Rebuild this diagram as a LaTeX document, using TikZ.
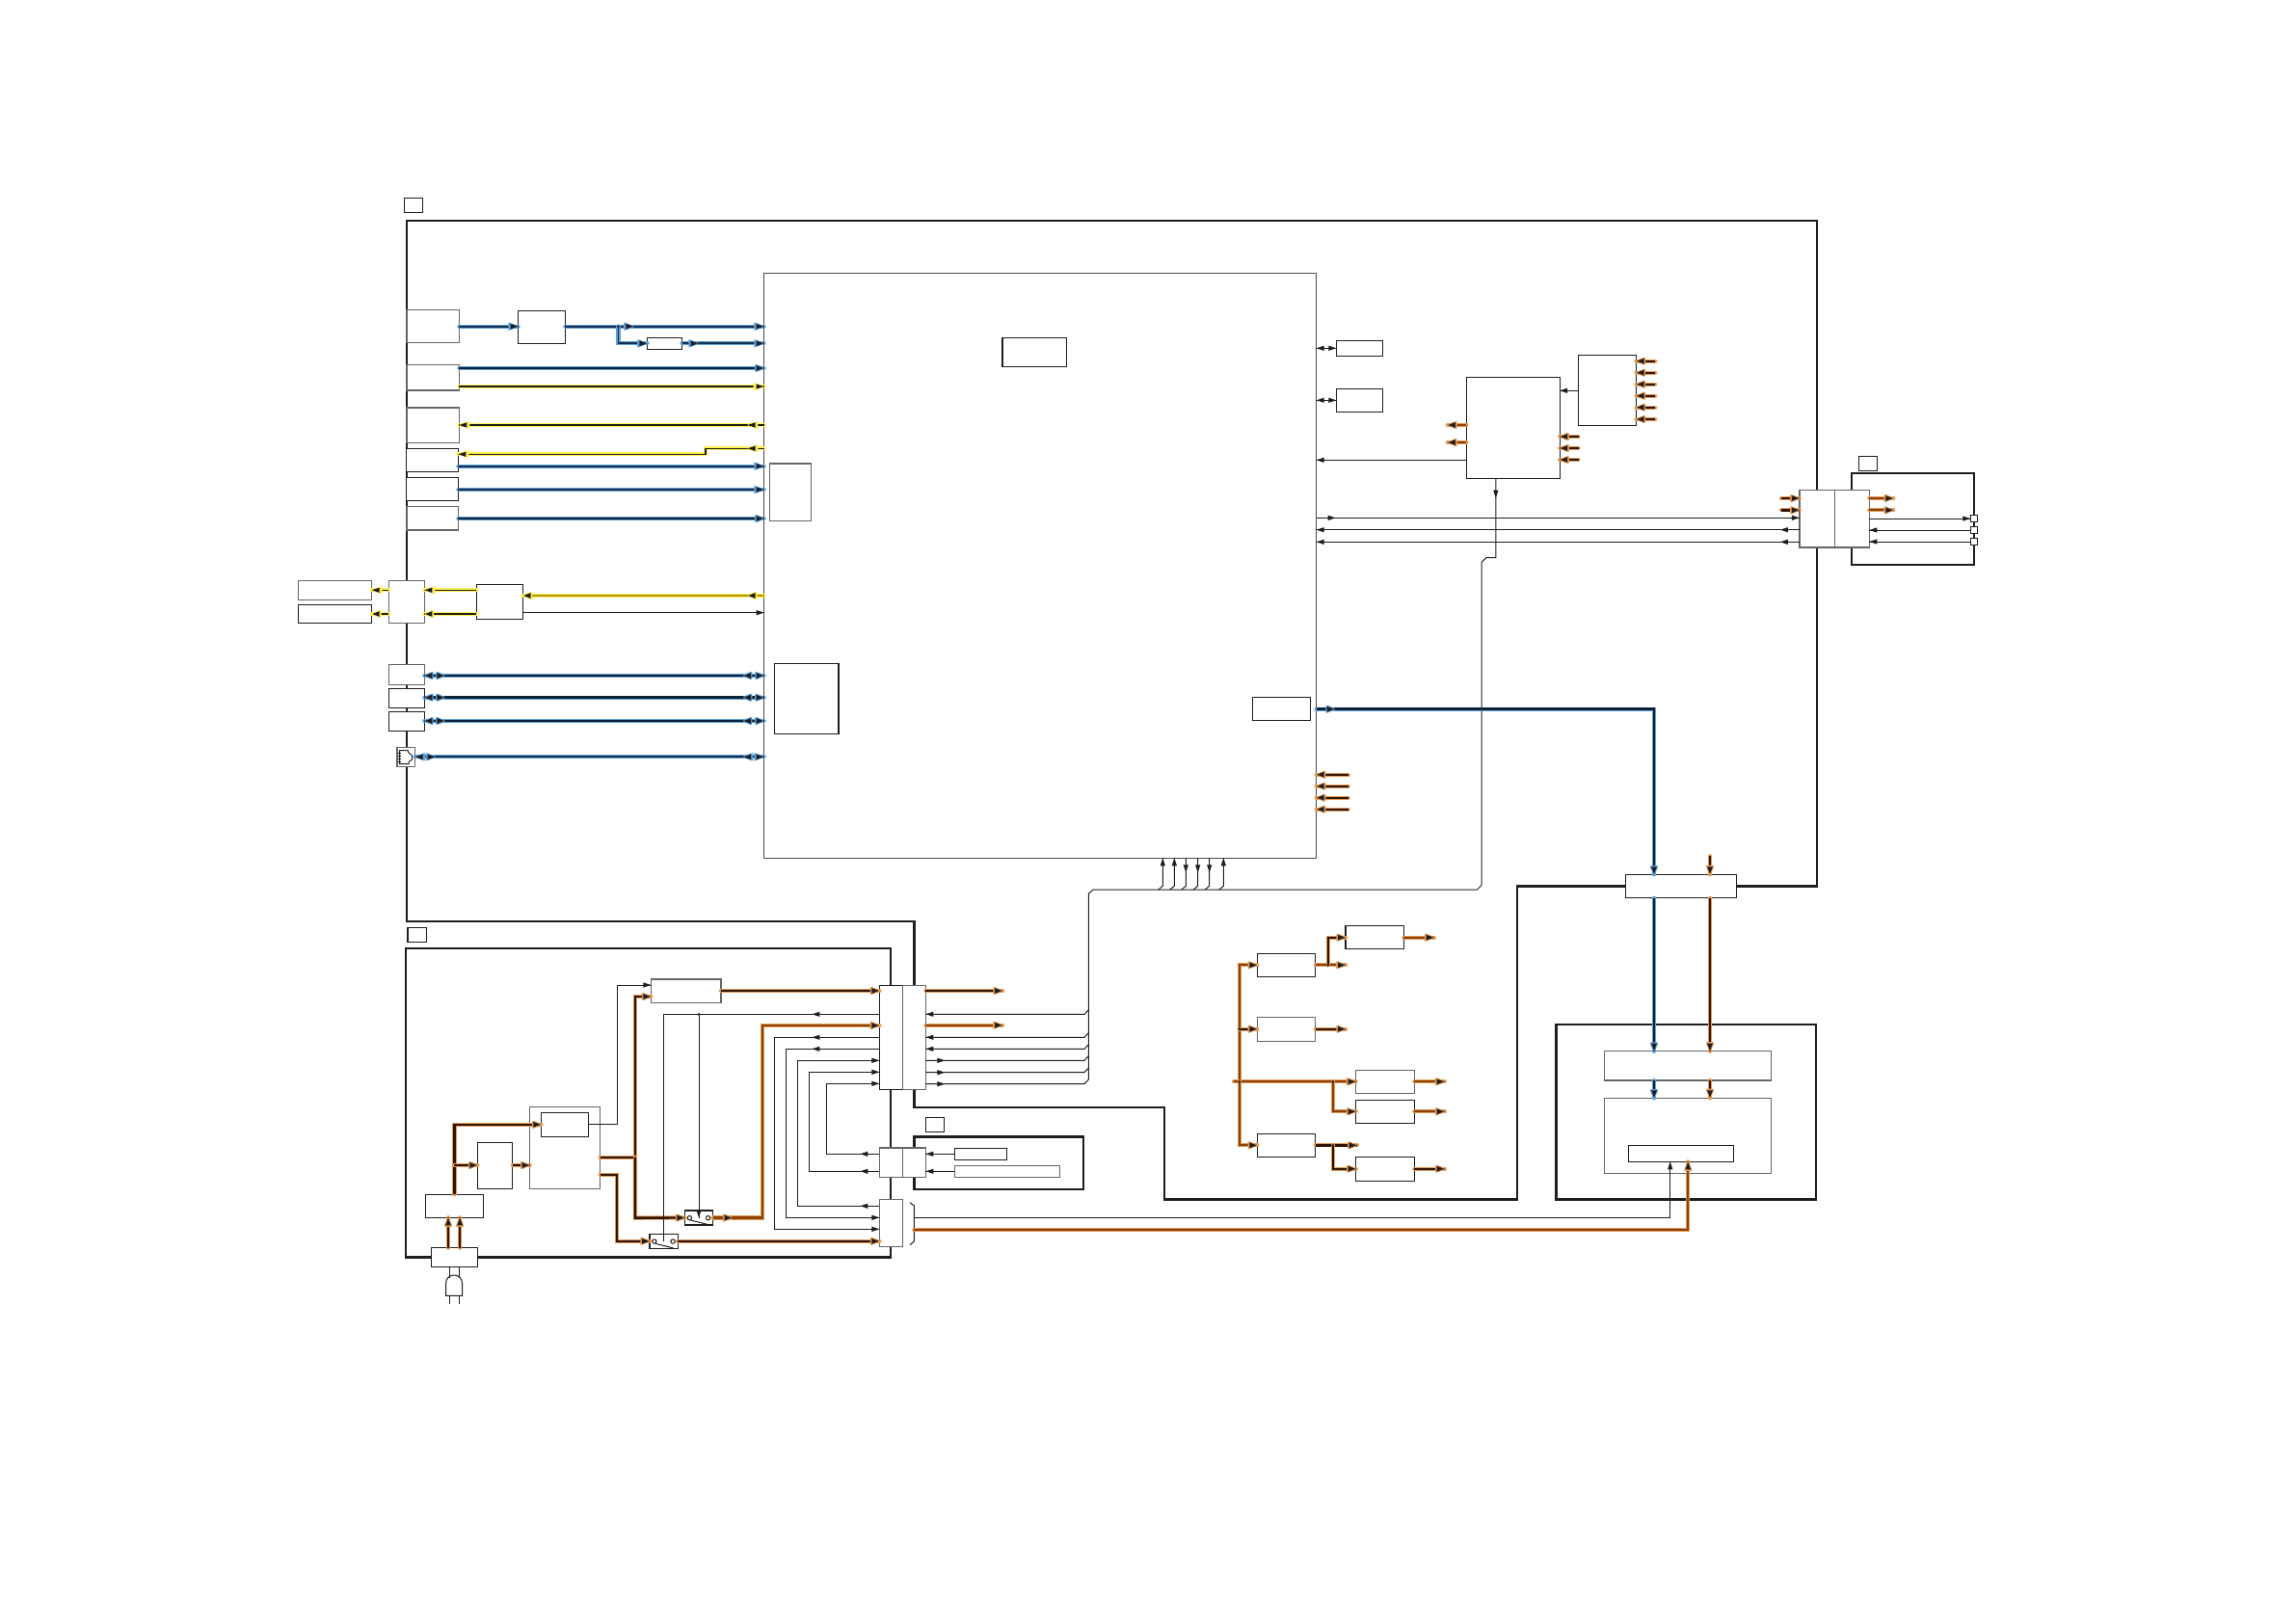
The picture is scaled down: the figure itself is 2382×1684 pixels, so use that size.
\documentclass[tikz,border=0pt]{standalone}
\usepackage{xcolor}
\usepackage{tikz}
\usetikzlibrary{arrows.meta, decorations.markings}

\definecolor{ink}{HTML}{1E1E1E}
\definecolor{boxgrey}{HTML}{666666}
\definecolor{hblue}{HTML}{5F9FD6}
\definecolor{cblue}{HTML}{17324F}
\definecolor{cnavy}{HTML}{0B2238}
\definecolor{hyellow}{HTML}{FFEE55}
\definecolor{cyellow}{HTML}{B59400}
\definecolor{horange}{HTML}{E39A55}
\definecolor{cbrown}{HTML}{2E1503}
\definecolor{corange}{HTML}{8A4208}

\tikzset{
    box/.style={draw=ink, line width=1.2pt, fill=white, inner sep=0pt, outer sep=0pt, anchor=north west},
    boxg/.style={draw=boxgrey, line width=1.4pt},
    frame/.style={draw=ink, line width=2.4pt},
    sig/.style={draw=ink, line width=1pt},
    halocol/.code={\colorlet{haloc}{#1}},
    wireblue/.style={halocol=hblue, draw=cblue, line width=1.8pt, preaction={draw=haloc, line width=4.3pt, line cap=round}},
    wirenavy/.style={halocol=hblue, draw=cnavy, line width=2.7pt, preaction={draw=haloc, line width=4.3pt, line cap=round}},
    wireyellow/.style={halocol=hyellow, draw=ink, line width=1.1pt, preaction={draw=haloc, line width=4.3pt, line cap=round}},
    wireyellowb/.style={halocol=hyellow, draw=ink, line width=2.2pt, preaction={draw=haloc, line width=4.3pt, line cap=round}},
    wireyellowc/.style={halocol=hyellow, draw=cyellow, line width=2.2pt, preaction={draw=haloc, line width=4.3pt, line cap=round}},
    wirebrown/.style={halocol=horange, draw=cbrown, line width=2.4pt, preaction={draw=haloc, line width=4.3pt, line cap=round}},
    wireorange/.style={halocol=horange, draw=corange, line width=2.2pt, preaction={draw=haloc, line width=4.3pt, line cap=round}},
    ftip/.style={postaction={decorate, decoration={markings, mark=at position #1 with {\arrow[haloc]{Triangle[length=12pt,width=8.5pt,round]}\arrow[ink]{Triangle[length=8pt,width=5pt]}}}}},
    btip/.style={postaction={decorate, decoration={markings, mark=at position #1 with {\arrowreversed[haloc]{Triangle[length=12pt,width=8.5pt,round]}\arrowreversed[ink]{Triangle[length=8pt,width=5pt]}}}}},
    stip/.style={postaction={decorate, decoration={markings, mark=at position #1 with {\arrow[ink]{Triangle[length=8pt,width=5pt]}}}}},
    rtip/.style={postaction={decorate, decoration={markings, mark=at position #1 with {\arrowreversed[ink]{Triangle[length=8pt,width=5pt]}}}}},
}

% box from its two corners, in pixels of the sheet
\newcommand{\bx}[6][]{\node[box, #1, minimum width=#5pt-#3pt, minimum height=#6pt-#4pt] (#2) at (#3,#4) {};}
% switch drawn inside a small box
\newcommand{\swbox}[3]{%
    \node[box, minimum width=29.2pt, minimum height=15pt] (#1) at (#2,#3) {};
    \draw[sig] (#2+5,#3+7.7) circle (2.2);
    \draw[sig] (#2+24.2,#3+7.7) circle (2.2);
    \draw[sig] (#2+6,#3+10) -- (#2+24.5,#3+14.6);
}

\begin{document}
\begin{tikzpicture}[x=1pt, y=-1pt, >=Stealth]
\useasboundingbox (0,0) rectangle (2382,1684);

% ── Frames ──────────────────────────────────────
\draw[frame] (948.3,1022) -- (948.3,956) -- (422,956) -- (422,228.7) -- (1885,228.7) -- (1885,919.3)
    -- (1574,919.3) -- (1574,1244.3) -- (1208,1244.3) -- (1208,1149) -- (948.3,1149) -- cycle;
\draw[frame] (421,983.7) rectangle (923.9,1304.3);
\draw[frame] (948.3,1179.3) rectangle (1123.7,1233.7);
\draw[frame] (1614.3,1063) rectangle (1884,1244.3);
\draw[frame] (1921,490.7) rectangle (2048.2,586);

% ── Boxes ──────────────────────────────────────
\bx{lblmain}{419.3}{205.3}{438.2}{220.3}
\bx{lblpower}{422.9}{962.7}{442.5}{977.3}
\bx{lblsub}{960.3}{1159.7}{979.7}{1174.3}
\bx{lblright}{1928.2}{473.3}{1947.5}{488.7}

\bx[draw=ink!80, line width=1pt]{main}{792.5}{283}{1365.7}{890.3}
\bx{maintop}{1040}{350.7}{1106.7}{380.7}
\bx[boxg]{mainin}{798.2}{481}{841.5}{540.3}
\bx{mainio}{803.2}{688.3}{870}{761.3}
\bx{mainout}{1299.3}{723.3}{1359.7}{747.3}

\bx[boxg]{ina}{421.8}{321.3}{476.4}{355.3}
\bx{split}{537.5}{322.3}{586.4}{356.3}
\bx{splitsm}{671.4}{350.3}{707.5}{362.7}
\bx[boxg]{inb}{421.8}{378.3}{476.4}{405}
\bx[boxg]{inc}{421.8}{423}{476.4}{459.3}
\bx{ind}{421.8}{465.3}{475.4}{489.3}
\bx{ine}{421.8}{495.3}{475.4}{519.3}
\bx[boxg]{inf}{421.8}{525.7}{475.4}{550}

\bx[boxg]{exta}{309.3}{602.7}{385.7}{622.3}
\bx{extb}{309.3}{627.3}{385.7}{646.3}
\bx[boxg]{extc}{403.2}{602.7}{440.4}{646.7}
\bx{amp}{494.3}{606.3}{542.5}{642.3}
\bx[boxg]{ioa}{403.2}{689.7}{440.4}{710.3}
\bx{iob}{403.2}{714.3}{440.4}{734.3}
\bx{ioc}{403.2}{738.3}{440.4}{758.3}
\bx[boxg]{jack}{412}{775.7}{430.7}{795.3}
\draw[sig] (414.5,778.5) -- (423,778.5) -- (424,781) -- (427.5,784) -- (427.5,788) -- (424,790.5) -- (424,792.5) -- (414.5,792.5) -- cycle;
\draw[sig] (413,781) -- (416,781) (413,784) -- (416,784) (413,787) -- (416,787) (413,790) -- (416,790);

\bx{rbxa}{1386.3}{353.3}{1434.7}{369.3}
\bx{rbxb}{1386.3}{403.3}{1434.7}{427.3}
\bx{psbig}{1521.4}{391.3}{1618.2}{496.7}
\bx{pssm}{1637.5}{368.3}{1697.5}{441.3}
\bx[boxg]{cnra}{1866.8}{508.7}{1903.2}{568}
\bx[boxg]{cnrb}{1903.2}{508.7}{1939.3}{568}
\bx{tma}{2044.3}{534.3}{2051.8}{541.7}
\bx{tmb}{2044.3}{546.3}{2051.8}{553.7}
\bx{tmc}{2044.3}{558.3}{2051.8}{565.7}

\bx{inlet}{447.5}{1294.7}{495.7}{1314.3}
\bx{psa}{441.4}{1239.3}{501.4}{1263.3}
\bx{pfc}{495.4}{1185.3}{531.8}{1233.3}
\bx[boxg]{large}{549.6}{1148.7}{622.5}{1233.3}
\bx{largein}{561.4}{1154.3}{610.7}{1179.3}
\bx[boxg]{stby}{675.4}{1016}{747.9}{1040.3}
\swbox{swa}{710.4}{1256}
\swbox{swb}{673.9}{1280.3}
\bx{cola}{912.4}{1022.3}{936.3}{1130.3}
\bx[boxg]{colb}{936.3}{1022.3}{960.4}{1130.3}
\bx[boxg]{mida}{912.4}{1191}{936.3}{1221.3}
\bx[boxg]{midb}{936.3}{1191}{960.4}{1221.3}
\bx[boxg]{lowa}{912.4}{1244.3}{936.3}{1293.7}
\bx{suba}{990.3}{1191.3}{1044.7}{1203.3}
\bx[boxg]{subb}{990.3}{1209.3}{1099.3}{1221.3}

\bx{pa}{1396}{960.3}{1456.3}{984.3}
\bx{pb}{1304.3}{989.3}{1364.7}{1013.3}
\bx[boxg]{pc}{1304.3}{1055.7}{1364.7}{1080.3}
\bx[boxg]{pd}{1406.7}{1110.3}{1467.3}{1134.3}
\bx{pe}{1406.7}{1141.3}{1467.3}{1165.3}
\bx{pf}{1304.3}{1176.3}{1364.7}{1200.3}
\bx{pg}{1406.7}{1200.3}{1467.3}{1225.3}

\bx{bridge}{1686.7}{907.3}{1801.7}{931.7}
\bx[boxg]{panela}{1664.3}{1090.7}{1837.7}{1121}
\bx[boxg]{panelb}{1664.3}{1139.3}{1837.7}{1217.7}
\bx{panelc}{1689.3}{1188.7}{1798.3}{1205.3}

% plug under the inlet
\draw[sig] (466.8,0 |- inlet.south) -- (466.8,1326) (476.4,0 |- inlet.south) -- (476.4,1326);
\draw[sig] (462.5,1344.3) -- (462.5,1332) .. controls (462.5,1320) and (479.6,1320) .. (479.6,1332) -- (479.6,1344.3) -- cycle;
\draw[sig] (466.8,1344.3) -- (466.8,1352.7) (476.4,1344.3) -- (476.4,1352.7);

% ── Left inputs ──────────────────────────────────────
\draw[wireblue, ftip=1] (ina.east |- 0,338.7) -- (split.west |- 0,338.7);
\draw[wireblue, ftip=71pt, ftip=1] (split.east |- 0,338.7) -- (main.west |- 0,338.7);
\draw[wireblue, ftip=1] (641.4,338.7) -- (641.4,356.3) -- (splitsm.west |- 0,356.3);
\fill[ink] (641.4,338.7) circle (1.5);
\draw[wireblue, ftip=17pt, ftip=1] (splitsm.east |- 0,356.3) -- (main.west |- 0,356.3);
\draw[wirenavy, ftip=1] (inb.east |- 0,382) -- (main.west |- 0,382);
\draw[wireyellow, ftip=1] (inb.east |- 0,401) -- (main.west |- 0,401);
\draw[wireyellow, ftip=17pt, ftip=1] (main.west |- 0,441) -- (inc.east |- 0,441);
\draw[wireyellow, ftip=17pt, ftip=1] (main.west |- 0,465.3) -- (732,465.3) -- (732,471.3) -- (ind.east |- 0,471.3);
\draw[wireblue, ftip=1] (ind.east |- 0,483.7) -- (main.west |- 0,483.7);
\draw[wireblue, ftip=1] (ine.east |- 0,508) -- (main.west |- 0,508);
\draw[wirenavy, ftip=1] (inf.east |- 0,538) -- (main.west |- 0,538);

\draw[wireyellowc, ftip=17pt, ftip=1] (main.west |- 0,618) -- (amp.east |- 0,618);
\draw[sig, stip=1] (amp.east |- 0,635.7) -- (main.west |- 0,635.7);
\draw[wireyellow, ftip=1] (amp.west |- 0,612.3) -- (extc.east |- 0,612.3);
\draw[wireyellowb, ftip=1] (amp.west |- 0,637) -- (extc.east |- 0,637);
\draw[wireyellow, ftip=1] (extc.west |- 0,612.3) -- (exta.east |- 0,612.3);
\draw[wireyellowb, ftip=1] (extc.west |- 0,637) -- (extb.east |- 0,637);

\foreach \nm/\yy/\wr in {ioa/701/wirenavy, iob/723.7/wirenavy, ioc/748/wirenavy, jack/785.3/wireblue}
    \draw[\wr, btip=0, ftip=21pt, btip=-21.5pt, ftip=1] (\nm.east |- 0,\yy) -- (main.west |- 0,\yy);

% ── Right of the main board ──────────────────────────────────────
\draw[sig, rtip=0, stip=1] (main.east |- rbxa.west) -- (rbxa.west);
\draw[sig, rtip=0, stip=1] (main.east |- rbxb.west) -- (rbxb.west);
\draw[sig, stip=1] (psbig.west |- 0,477.3) -- (main.east |- 0,477.3);
\draw[sig, stip=1] (pssm.west |- 0,405.3) -- (psbig.east |- 0,405.3);
\draw[sig, stip=20pt, stip=1] (main.east |- 0,537.3) -- (cnra.west |- 0,537.3);
\draw[sig, stip=20pt, stip=1] (cnra.west |- 0,549.7) -- (main.east |- 0,549.7);
\draw[sig, stip=20pt, stip=1] (cnra.west |- 0,562.3) -- (main.east |- 0,562.3);
\draw[sig, stip=1] (cnrb.east |- tma.west) -- (tma.west);
\draw[sig, stip=1] (tmb.west) -- (cnrb.east |- tmb.west);
\draw[sig, stip=1] (tmc.west) -- (cnrb.east |- tmc.west);

\foreach \yy [count=\i] in {374.7, 386.7, 398.7, 410.7, 422.7, 435} {
    \coordinate (stubA\i) at (1717.1,\yy);
    \draw[wirebrown, ftip=1] (stubA\i) -- (pssm.east |- stubA\i);
}
\foreach \yy [count=\i] in {453, 465, 477} {
    \coordinate (stubB\i) at (1637.5,\yy);
    \draw[wirebrown, ftip=1] (stubB\i) -- (psbig.east |- stubB\i);
}
\foreach \yy [count=\i] in {441, 459} {
    \coordinate (stubC\i) at (1501.8,\yy);
    \draw[wireorange, ftip=1] (psbig.west |- stubC\i) -- (stubC\i);
}
\foreach \yy [count=\i] in {803.7, 815.7, 827.7, 839.7} {
    \coordinate (stubD\i) at (1398.7,\yy);
    \draw[wirebrown, ftip=1] (stubD\i) -- (main.east |- stubD\i);
}
\foreach \yy [count=\i] in {517, 529.3} {
    \coordinate (stubE\i) at (1848,\yy);
    \coordinate (stubF\i) at (1964.3,\yy);
    \draw[wirebrown, ftip=1] (stubE\i) -- (cnra.west |- stubE\i);
    \draw[wireorange, ftip=1] (cnrb.east |- stubF\i) -- (stubF\i);
}

% ── Bus between boards ──────────────────────────────────────
\draw[sig, stip=20pt] (1551.8,0 |- psbig.south) -- (1551.8,578.7) -- (1542,578.7) -- (1537,583.3)
    -- (1537,918.5) -- (1532.5,923) -- (1134,923) -- (1129.3,927.5) -- (1129.3,1120);
\foreach \xx in {1206.3, 1218.3, 1269.3}
    \draw[sig, stip=1] (\xx-4.5,923) -- (\xx,919.3) -- (\xx,0 |- main.south);
\foreach \xx in {1230.3, 1242.7, 1254.7}
    \draw[sig, stip=15pt] (\xx,0 |- main.south) -- (\xx,919.3) -- (\xx-4.5,923);
\foreach \yy in {1052.3, 1076.3, 1088.3}
    \draw[sig, stip=1] (1129.3,\yy-4.6) -- (1125,\yy) -- (colb.east |- 0,\yy);
\foreach \yy in {1100.3, 1112.7, 1124.7}
    \draw[sig, stip=20pt] (colb.east |- 0,\yy) -- (1125,\yy) -- (1129.3,\yy-4.6);

\draw[wirenavy, ftip=19pt, ftip=1] (main.east |- 0,735.7) -- (1716,735.7) -- (1716,0 |- bridge.north);
\coordinate (stubG) at (1774,888.3);
\draw[wirebrown, ftip=1] (stubG) -- (stubG |- bridge.north);
\draw[wirenavy, ftip=1] (1716,0 |- bridge.south) -- (1716,0 |- panela.north);
\draw[wirebrown, ftip=1] (1774,0 |- bridge.south) -- (1774,0 |- panela.north);
\draw[wirenavy, ftip=1] (1716,0 |- panela.south) -- (1716,0 |- panelb.north);
\draw[wirebrown, ftip=1] (1774,0 |- panela.south) -- (1774,0 |- panelb.north);

% ── Power supply board ──────────────────────────────────────
\draw[wirebrown, ftip=1] (465,0 |- inlet.north) -- (465,0 |- psa.south);
\draw[wirebrown, ftip=1] (477.1,0 |- inlet.north) -- (477.1,0 |- psa.south);
\draw[wirebrown, ftip=1] (psa.north) -- (psa.north |- largein.west) -- (largein.west);
\draw[wirebrown, ftip=1] (psa.north |- 0,1209) -- (pfc.west |- 0,1209);
\draw[wirebrown, ftip=1] (pfc.east |- 0,1209) -- (large.west |- 0,1209);
\draw[wirebrown] (large.east |- 0,1200.7) -- (658.9,1200.7);
\draw[wirebrown, ftip=1] (658.9,1200.7) -- (658.9,1034) -- (stby.west |- 0,1034);
\draw[wirebrown, ftip=1] (658.9,1200.7) -- (658.9,1263.6) -- (swa.west);
\draw[wireorange, ftip=20pt, ftip=1] (swa.east) -- (791.1,1263.5) -- (791.1,1064) -- (cola.west |- 0,1064);
\draw[wirebrown, ftip=1] (large.east |- 0,1218.7) -- (640,1218.7) -- (640,1287.8) -- (swb.west);
\draw[wirebrown, ftip=1] (swb.east) -- (lowa.west |- swb.east);
\draw[wirebrown, ftip=1] (stby.east |- 0,1028) -- (cola.west |- 0,1028);
\draw[sig, stip=1] (largein.east) -- (640.4,0 |- largein.east) -- (640.4,1022) -- (stby.west |- 0,1022);

\draw[sig, stip=70pt] (cola.west |- 0,1052.3) -- (swb.center |- 0,1052.3) -- (swb.center);
\draw[sig, stip=1] (swa.center |- 0,1052.3) -- (swa.center);
\fill[ink] (swa.center |- 0,1052.3) circle (1.5);
\draw[sig, stip=70pt, stip=1] (cola.west |- 0,1076.3) -- (803.2,1076.3) -- (803.2,1275.3) -- (lowa.west |- 0,1275.3);
\draw[sig, stip=70pt, stip=1] (cola.west |- 0,1088.3) -- (815.4,1088.3) -- (815.4,1263.3) -- (lowa.west |- 0,1263.3);
\draw[sig, stip=20pt, stip=1] (lowa.west |- 0,1251.3) -- (827.5,1251.3) -- (827.5,1100.3) -- (cola.west |- 0,1100.3);
\draw[sig, stip=20pt, stip=1] (mida.west |- 0,1215.3) -- (839.3,1215.3) -- (839.3,1112.3) -- (cola.west |- 0,1112.3);
\draw[sig, stip=20pt, stip=1] (mida.west |- 0,1197.3) -- (857.5,1197.3) -- (857.5,1124.3) -- (cola.west |- 0,1124.3);

\draw[sig, stip=1] (suba.west) -- (midb.east |- suba.west);
\draw[sig, stip=1] (subb.west) -- (midb.east |- subb.west);

\coordinate (stubH) at (1040,1028);
\coordinate (stubI) at (1040,1063.7);
\draw[wirebrown, ftip=1] (colb.east |- stubH) -- (stubH);
\draw[wireorange, ftip=1] (colb.east |- stubI) -- (stubI);

% cable to the panel
\draw[sig] (944,1247.7) -- (948.3,1251) -- (948.3,1288) -- (944,1291.7);
\draw[sig, stip=1] (948.3,1263.3) -- (1732.7,1263.3) -- (1732.7,0 |- panelc.south);
\draw[wireorange, ftip=1] (948.3,1276) -- (1751.3,1276) -- (1751.3,0 |- panelc.south);

% ── Power rails ──────────────────────────────────────
\coordinate (railw) at (1280,1122.3);
\draw[wireorange, ftip=1] (railw) -- (pd.west |- railw);
\draw[wireorange, ftip=1] (1285.7,1122.3) -- (1285.7,1001.3) -- (pb.west |- 0,1001.3);
\draw[wireorange, ftip=1] (1285.7,1122.3) -- (1285.7,1188.3) -- (pf.west |- 0,1188.3);
\draw[wirebrown, ftip=1] (1285.7,1067.7) -- (pc.west |- 0,1067.7);
\draw[wireorange, ftip=1] (pb.east |- 0,1001.3) -- (1396,1001.3);
\draw[wirebrown, ftip=1] (1377.7,1001.3) -- (1377.7,972.7) -- (pa.west |- 0,972.7);
\draw[wireorange, ftip=1] (pa.east |- 0,972.7) -- (1487.7,972.7);
\draw[wirebrown, ftip=1] (pc.east |- 0,1067.7) -- (1396,1067.7);
\draw[wireorange, ftip=1] (pd.east |- 0,1122.3) -- (1498.7,1122.3);
\draw[wireorange, ftip=1] (1382.7,1122.3) -- (1382.7,1153.3) -- (pe.west |- 0,1153.3);
\draw[wireorange, ftip=1] (pe.east |- 0,1153.3) -- (1498.7,1153.3);
\draw[wirebrown, ftip=1] (pf.east |- 0,1188.3) -- (1407.7,1188.3);
\draw[wirebrown, ftip=1] (1382.7,1188.3) -- (1382.7,1212.7) -- (pg.west |- 0,1212.7);
\draw[wirebrown, ftip=1] (pg.east |- 0,1212.7) -- (1498.7,1212.7);
\fill[ink] (1285.7,1122.3) circle (1.5) (1285.7,1067.7) circle (1.5) (1382.7,1122.3) circle (1.5) (1382.7,1188.3) circle (1.5) (1377.7,1001.3) circle (1.5);

\end{tikzpicture}
\end{document}
